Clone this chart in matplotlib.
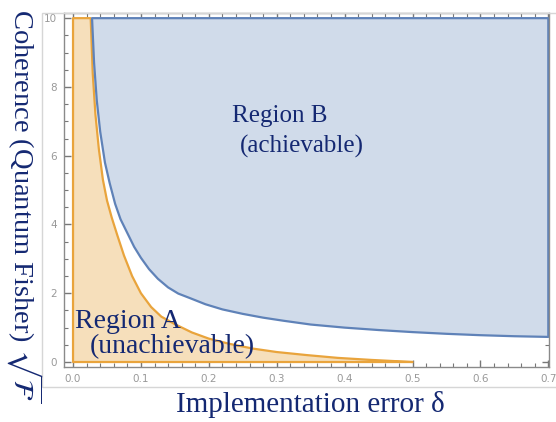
import matplotlib
matplotlib.use("Agg")
import matplotlib.pyplot as plt
from matplotlib.patches import Polygon, Rectangle
from matplotlib.ticker import MultipleLocator

# Boundary of Region A (unachievable)
orange_delta = [0.026, 0.029, 0.033, 0.038, 0.044, 0.050, 0.057, 0.065, 0.075,
                0.087, 0.100, 0.115, 0.130, 0.150, 0.175, 0.200, 0.230, 0.265,
                0.300, 0.345, 0.390, 0.440, 0.500]
orange_coh = [10.0, 8.4, 7.2, 6.2, 5.3, 4.7, 4.2, 3.7, 3.1,
              2.5, 2.0, 1.6, 1.32, 1.1, 0.86, 0.68, 0.53, 0.39,
              0.29, 0.20, 0.12, 0.06, 0.0]

# Boundary of Region B (achievable)
blue_delta = [0.028, 0.031, 0.035, 0.040, 0.047, 0.054, 0.062, 0.070, 0.080,
              0.090, 0.100, 0.112, 0.125, 0.140, 0.155, 0.172, 0.195, 0.220,
              0.250, 0.280, 0.310, 0.350, 0.400, 0.450, 0.500, 0.550, 0.600,
              0.650, 0.700]
blue_coh = [10.0, 8.7, 7.6, 6.7, 5.8, 5.2, 4.6, 4.15, 3.75,
            3.35, 3.03, 2.7, 2.42, 2.17, 1.99, 1.86, 1.68, 1.53,
            1.40, 1.29, 1.20, 1.09, 1.00, 0.93, 0.87, 0.82, 0.78,
            0.75, 0.73]

x_ticks = [0.0, 0.1, 0.2, 0.3, 0.4, 0.5, 0.6, 0.7]
y_ticks = [0, 2, 4, 6, 8, 10]
x_labels = ["0.0", "0.1", "0.2", "0.3", "0.4", "0.5", "0.6", "0.7"]
y_labels = ["0", "2", "4", "6", "8", "10"]

plt.rcParams['mathtext.fontset'] = 'stix'
navy = '#142872'

W, H = 556, 422
fig = plt.figure(figsize=(W / 100, H / 100), dpi=100)
ax = fig.add_axes([64 / W, 1 - 367 / H, (549 - 64) / W, (367 - 13) / H])

# outer light frame
fig.add_artist(Rectangle((42 / W, 1 - 387 / H), 1.2, (387 - 13) / H,
                         transform=fig.transFigure, fill=False,
                         edgecolor='#d6d6d6', linewidth=1.0))

# Region A polygon
a_pts = [(0.0, 0.0), (0.0, orange_coh[0])] + list(zip(orange_delta, orange_coh))
ax.add_patch(Polygon(a_pts, closed=True, facecolor='#f6dfbb',
                     edgecolor='#e9a43c', linewidth=1.6, joinstyle='round',
                     zorder=2))

# Region B polygon
b_pts = list(zip(blue_delta, blue_coh)) + [(blue_delta[-1], blue_coh[0])]
ax.add_patch(Polygon(b_pts, closed=True, facecolor='#d0dbea',
                     edgecolor='#5f82b8', linewidth=1.6, joinstyle='round',
                     zorder=2))

ax.set_xlim(-0.0133, 0.701)
ax.set_ylim(-0.145, 10.15)

ax.set_xticks(x_ticks)
ax.set_xticklabels(x_labels)
ax.set_yticks(y_ticks)
ax.set_yticklabels(y_labels)
ax.xaxis.set_minor_locator(MultipleLocator(0.02))
ax.yaxis.set_minor_locator(MultipleLocator(0.5))
ax.tick_params(which='both', direction='in', top=True, right=True,
               colors='#777777', labelcolor='#999999', labelsize=7.5, pad=5)
ax.tick_params(which='major', length=5, width=1.0)
ax.tick_params(which='minor', length=3, width=0.8)
for lab in ax.get_xticklabels() + ax.get_yticklabels():
    lab.set_fontfamily('DejaVu Sans')
for s in ax.spines.values():
    s.set_color('#8a8a8a')
    s.set_linewidth(1.0)

serif = 'Liberation Serif'
ax.text(0.234, 6.98, "Region B", fontsize=18, family=serif, color=navy,
        ha='left', va='baseline', zorder=3)
ax.text(0.246, 6.09, "(achievable)", fontsize=18, family=serif, color=navy,
        ha='left', va='baseline', zorder=3)
ax.text(0.003, 0.99, "Region A", fontsize=20, family=serif, color=navy,
        ha='left', va='baseline', zorder=3)
ax.text(0.025, 0.26, "(unachievable)", fontsize=20, family=serif, color=navy,
        ha='left', va='baseline', zorder=3)

fig.text(310 / W, 1 - 405 / H, "Implementation error δ", fontsize=21,
         family=serif, color=navy, ha='center', va='center')
fig.text(24 / W, 1 - 206 / H, r"Coherence (Quantum Fisher) $\sqrt{\mathcal{F}}$",
         fontsize=20.5, family=serif, color=navy, rotation=-90,
         rotation_mode='anchor', ha='center', va='center')

fig.savefig("out.png", dpi=100)
